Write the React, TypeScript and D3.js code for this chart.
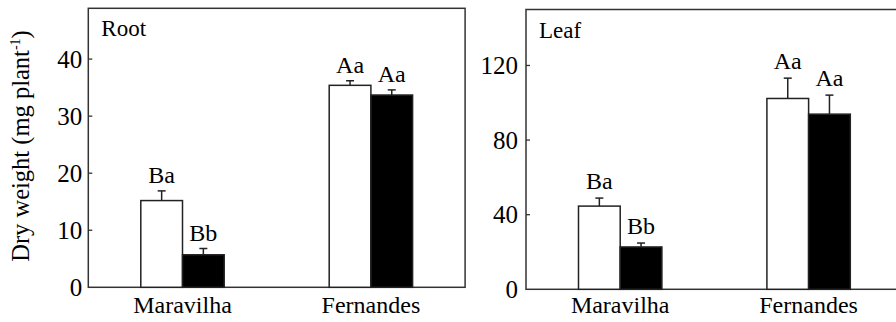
import React from "react";
import * as d3 from "d3";

const categories = ["Maravilha", "Fernandes"];
const rootControl = [15.2, 35.4];
const rootControlErr = [1.7, 0.8];
const rootTreated = [5.7, 33.7];
const rootTreatedErr = [1.1, 0.9];
const rootLabelsControl = ["Ba", "Aa"];
const rootLabelsTreated = ["Bb", "Aa"];
const rootTicks = [0, 10, 20, 30, 40];

const leafControl = [44.6, 102.3];
const leafControlErr = [4.3, 10.9];
const leafTreated = [22.7, 93.9];
const leafTreatedErr = [2.1, 10.2];
const leafLabelsControl = ["Ba", "Aa"];
const leafLabelsTreated = ["Bb", "Aa"];
const leafTicks = [0, 40, 80, 120];

const FONT = "Liberation Serif, Times New Roman, serif";

type PanelProps = {
  x0: number;
  top: number;
  bottom: number;
  width: number;
  yMax: number;
  ticks: number[];
  title: string;
  control: number[];
  controlErr: number[];
  treated: number[];
  treatedErr: number[];
  labelsC: string[];
  labelsT: string[];
  tickGap: number;
  labelGap: number;
};

function Panel(p: PanelProps) {
  const x = d3.scaleBand<string>().domain(categories).range([p.x0, p.x0 + p.width]).padding(0);
  const y = d3.scaleLinear().domain([0, p.yMax]).range([p.bottom, p.top]);
  const barW = 41.7;
  const cap = 4;
  const bars: any[] = [];
  categories.forEach((c, i) => {
    const cx = (x(c) as number) + x.bandwidth() / 2;
    const series = [
      { v: p.control[i], e: p.controlErr[i], lab: p.labelsC[i], x: cx - barW, fill: "#fff" },
      { v: p.treated[i], e: p.treatedErr[i], lab: p.labelsT[i], x: cx, fill: "#000" },
    ];
    series.forEach((s, j) => {
      const mid = s.x + barW / 2;
      const yt = y(s.v);
      const ye = y(s.v + s.e);
      bars.push(
        <g key={c + j}>
          <line x1={mid} x2={mid} y1={yt} y2={ye} stroke="#222" strokeWidth={1.5} />
          <line x1={mid - cap} x2={mid + cap} y1={ye} y2={ye} stroke="#222" strokeWidth={1.5} />
          <rect x={s.x} y={yt} width={barW} height={p.bottom - yt} fill={s.fill} stroke="#222" strokeWidth={1.5} />
          <text x={mid} y={ye - p.labelGap} textAnchor="middle" fontSize={24} fontFamily={FONT} fill="#000">
            {s.lab}
          </text>
        </g>
      );
    });
  });
  return (
    <g>
      <rect x={p.x0} y={p.top} width={p.width} height={p.bottom - p.top} fill="none" stroke="#333" strokeWidth={1.5} />
      {p.ticks.map((t) => (
        <g key={t}>
          {t !== 0 && <line x1={p.x0} x2={p.x0 + 4} y1={y(t)} y2={y(t)} stroke="#333" strokeWidth={1.3} />}
          <text x={p.x0 - p.tickGap} y={y(t)} dy="0.35em" textAnchor="end" fontSize={25} fontFamily={FONT} fill="#000">
            {t}
          </text>
        </g>
      ))}
      {bars}
      {categories.map((c) => (
        <text key={c} x={(x(c) as number) + x.bandwidth() / 2} y={313} textAnchor="middle" fontSize={24} fontFamily={FONT} fill="#000">
          {c}
        </text>
      ))}
      <text x={p.x0 + 13} y={p.top + 28} fontSize={23} fontFamily={FONT} fill="#000">
        {p.title}
      </text>
    </g>
  );
}

export default function App() {
  return (
    <svg width={896} height={322} style={{ position: "absolute", left: 0, top: 0, background: "#fff" }}>
      <rect width={896} height={322} fill="#fff" />
      <Panel
        x0={88.3}
        top={8.3}
        bottom={287.3}
        width={376.8}
        yMax={48.9}
        ticks={rootTicks}
        title="Root"
        control={rootControl}
        controlErr={rootControlErr}
        treated={rootTreated}
        treatedErr={rootTreatedErr}
        labelsC={rootLabelsControl}
        labelsT={rootLabelsTreated}
        tickGap={6}
        labelGap={8}
      />
      <Panel
        x0={526}
        top={9.5}
        bottom={289.3}
        width={376.8}
        yMax={150}
        ticks={leafTicks}
        title="Leaf"
        control={leafControl}
        controlErr={leafControlErr}
        treated={leafTreated}
        treatedErr={leafTreatedErr}
        labelsC={leafLabelsControl}
        labelsT={leafLabelsTreated}
        tickGap={8}
        labelGap={9}
      />
      <text transform="translate(29,146) rotate(-90)" textAnchor="middle" fontSize={24.5} fontFamily={FONT} fill="#000">
        Dry weight (mg plant<tspan dy="-9" fontSize={14}>-1</tspan><tspan dy="9">)</tspan>
      </text>
    </svg>
  );
}
